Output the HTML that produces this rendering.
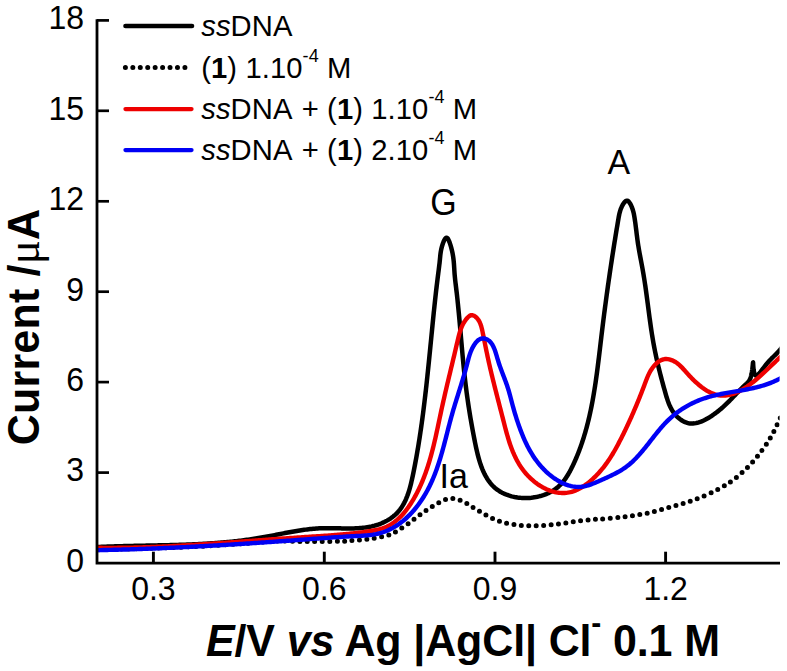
<!DOCTYPE html>
<html><head><meta charset="utf-8"><title>DPV ssDNA</title>
<style>
html,body{margin:0;padding:0;background:#fff;}
body{width:787px;height:671px;overflow:hidden;font-family:"Liberation Sans", sans-serif;}
svg{display:block;}
</style></head><body>
<svg width="787" height="671" viewBox="0 0 787 671">
<defs><clipPath id="pc"><rect x="0" y="0" width="779.6" height="671"/></clipPath></defs><g clip-path="url(#pc)">
<path d="M99.0,549.8 C107.5,549.5 133.2,548.8 150.0,548.2 C166.8,547.6 183.3,547.2 200.0,546.3 C216.7,545.4 237.5,543.9 250.0,543.0 C262.5,542.1 268.0,541.5 275.0,541.2 C282.0,540.9 286.2,541.1 292.0,541.2 C297.8,541.3 302.0,541.6 310.0,541.6 C318.0,541.6 332.6,541.5 340.1,541.3 C347.7,541.1 350.2,540.7 355.3,540.3 C360.4,539.9 365.5,539.5 370.6,538.8 C375.7,538.1 382.1,536.8 385.8,535.9 C389.5,535.0 390.5,534.3 392.9,533.2 C395.3,532.1 397.5,530.7 400.0,529.1 C402.5,527.5 405.5,525.7 408.0,523.9 C410.5,522.1 412.8,520.2 415.2,518.4 C417.6,516.6 420.1,514.8 422.5,513.0 C424.9,511.2 427.4,509.5 429.9,507.9 C432.4,506.3 435.0,504.8 437.5,503.4 C440.0,502.0 442.4,500.6 444.9,499.8 C447.4,499.0 449.8,498.5 452.3,498.5 C454.8,498.5 457.2,499.1 459.7,500.0 C462.2,500.9 464.7,502.2 467.2,503.6 C469.7,505.0 472.1,507.0 474.6,508.5 C477.1,510.0 479.5,511.3 482.0,512.7 C484.5,514.1 487.0,515.9 489.5,517.1 C492.0,518.4 494.3,519.2 496.8,520.2 C499.3,521.2 501.9,522.1 504.4,522.8 C506.9,523.5 509.5,523.9 512.0,524.3 C514.5,524.7 516.9,525.0 519.3,525.2 C521.7,525.5 524.0,525.7 526.5,525.8 C529.0,525.9 531.6,525.8 534.1,525.8 C536.6,525.8 539.2,525.6 541.8,525.5 C544.3,525.4 546.9,525.2 549.4,525.0 C551.9,524.8 554.1,524.6 556.5,524.3 C558.9,524.0 561.4,523.6 563.9,523.2 C566.4,522.8 569.0,522.5 571.5,522.1 C574.0,521.7 576.3,521.2 578.8,520.9 C581.3,520.6 583.8,520.5 586.4,520.2 C589.0,520.0 591.8,519.6 594.1,519.4 C596.4,519.2 595.0,519.5 600.0,519.1 C605.0,518.7 615.9,517.9 623.8,516.9 C631.7,515.9 639.6,514.8 647.5,513.1 C655.4,511.4 663.4,508.9 671.3,506.7 C679.2,504.4 687.1,502.6 695.0,499.6 C702.9,496.6 712.1,492.5 718.8,488.9 C725.5,485.3 730.2,482.2 735.4,478.2 C740.5,474.2 745.3,469.7 749.7,465.1 C754.1,460.6 758.0,455.6 761.6,450.9 C765.2,446.1 768.3,441.4 771.1,436.6 C773.9,431.9 776.6,425.8 778.2,422.4 C779.9,419.0 780.5,417.1 781.0,416.0" fill="none" stroke="#000" stroke-width="5" stroke-linecap="round" stroke-dasharray="0 7.45"/>
<path d="M97.02,547.05 L98.51,546.98 L100.00,546.91 L101.49,546.84 L102.98,546.78 L104.47,546.72 L105.96,546.66 L107.45,546.60 L108.94,546.55 L110.44,546.49 L111.93,546.44 L113.42,546.39 L114.92,546.35 L116.41,546.30 L117.91,546.26 L119.40,546.21 L120.90,546.17 L122.40,546.13 L123.89,546.09 L125.39,546.06 L126.89,546.02 L128.39,545.98 L129.88,545.95 L131.38,545.92 L132.88,545.88 L134.38,545.85 L135.88,545.82 L137.38,545.79 L138.88,545.76 L140.38,545.73 L141.88,545.70 L143.38,545.67 L144.88,545.64 L146.39,545.61 L147.89,545.58 L149.39,545.55 L150.89,545.52 L152.39,545.49 L153.90,545.46 L155.40,545.43 L156.90,545.40 L158.40,545.37 L159.90,545.34 L161.41,545.31 L162.91,545.28 L164.41,545.24 L165.91,545.21 L167.42,545.17 L168.92,545.14 L170.42,545.10 L171.92,545.06 L173.43,545.02 L174.93,544.98 L176.43,544.93 L177.93,544.89 L179.44,544.84 L180.94,544.79 L182.44,544.74 L183.94,544.69 L185.44,544.64 L186.94,544.58 L188.44,544.53 L189.94,544.47 L191.45,544.40 L192.95,544.34 L194.45,544.27 L195.95,544.21 L197.45,544.13 L198.94,544.06 L200.44,543.98 L201.94,543.90 L203.44,543.82 L204.94,543.74 L206.44,543.65 L207.93,543.56 L209.43,543.46 L210.93,543.36 L212.42,543.26 L213.92,543.16 L215.41,543.05 L216.91,542.94 L218.40,542.82 L219.90,542.71 L221.39,542.58 L222.88,542.46 L224.37,542.33 L225.87,542.19 L227.36,542.06 L228.85,541.91 L230.34,541.77 L231.83,541.62 L233.32,541.46 L234.80,541.30 L236.29,541.14 L237.78,540.97 L239.26,540.79 L240.75,540.62 L242.24,540.43 L243.72,540.24 L245.20,540.05 L246.69,539.85 L248.17,539.65 L249.65,539.44 L251.13,539.23 L252.61,539.01 L254.09,538.78 L255.57,538.55 L257.04,538.32 L258.52,538.08 L259.99,537.83 L261.47,537.58 L262.94,537.32 L264.42,537.05 L265.89,536.78 L267.36,536.51 L268.83,536.23 L270.30,535.95 L271.77,535.67 L273.24,535.38 L274.71,535.09 L276.18,534.80 L277.65,534.51 L279.12,534.22 L280.59,533.93 L282.06,533.64 L283.53,533.35 L285.00,533.07 L286.47,532.79 L287.94,532.51 L289.41,532.23 L290.88,531.96 L292.36,531.70 L293.83,531.43 L295.31,531.18 L296.78,530.93 L298.26,530.69 L299.74,530.46 L301.22,530.23 L302.70,530.02 L304.18,529.81 L305.67,529.61 L307.16,529.42 L308.64,529.25 L310.13,529.08 L311.63,528.93 L313.12,528.79 L314.62,528.66 L316.11,528.55 L317.62,528.45 L319.12,528.37 L320.62,528.30 L322.13,528.25 L323.64,528.21 L325.15,528.19 L326.67,528.17 L328.18,528.17 L329.70,528.18 L331.22,528.19 L332.74,528.22 L334.26,528.24 L335.78,528.27 L337.30,528.30 L338.82,528.34 L340.34,528.37 L341.86,528.40 L343.37,528.43 L344.89,528.45 L346.40,528.46 L347.92,528.47 L349.43,528.47 L350.93,528.45 L352.44,528.43 L353.94,528.39 L355.44,528.34 L356.94,528.27 L358.43,528.18 L359.92,528.08 L361.40,527.95 L362.88,527.80 L364.36,527.63 L365.83,527.43 L367.29,527.21 L368.75,526.96 L370.21,526.68 L371.66,526.37 L373.10,526.02 L374.53,525.65 L375.96,525.24 L377.38,524.79 L378.80,524.31 L380.20,523.79 L381.59,523.23 L382.96,522.63 L384.32,522.00 L385.66,521.33 L386.97,520.63 L388.26,519.88 L389.53,519.10 L390.76,518.29 L391.96,517.43 L393.13,516.54 L394.27,515.61 L395.36,514.65 L396.41,513.65 L397.42,512.61 L398.39,511.53 L399.32,510.42 L400.20,509.28 L401.05,508.10 L401.86,506.90 L402.63,505.66 L403.37,504.40 L404.07,503.11 L404.74,501.80 L405.38,500.46 L405.99,499.10 L406.57,497.72 L407.13,496.33 L407.66,494.91 L408.16,493.48 L408.65,492.03 L409.11,490.57 L409.55,489.09 L409.97,487.61 L410.37,486.12 L410.76,484.62 L411.13,483.11 L411.49,481.59 L411.84,480.08 L412.18,478.56 L412.51,477.04 L412.83,475.52 L413.14,474.00 L413.45,472.49 L413.75,470.98 L414.05,469.47 L414.34,467.97 L414.63,466.48 L414.92,464.98 L415.20,463.49 L415.48,462.01 L415.76,460.52 L416.03,459.04 L416.30,457.57 L416.56,456.09 L416.82,454.62 L417.08,453.15 L417.33,451.68 L417.58,450.22 L417.83,448.75 L418.08,447.29 L418.32,445.83 L418.56,444.37 L418.79,442.91 L419.03,441.46 L419.26,440.00 L419.48,438.54 L419.71,437.09 L419.93,435.63 L420.15,434.18 L420.37,432.72 L420.58,431.26 L420.80,429.81 L421.01,428.35 L421.22,426.89 L421.42,425.43 L421.63,423.97 L421.83,422.51 L422.03,421.04 L422.23,419.58 L422.43,418.11 L422.62,416.64 L422.81,415.17 L423.01,413.69 L423.20,412.22 L423.39,410.74 L423.57,409.26 L423.76,407.78 L423.94,406.29 L424.13,404.81 L424.31,403.32 L424.49,401.83 L424.67,400.34 L424.85,398.85 L425.02,397.36 L425.20,395.87 L425.37,394.37 L425.54,392.88 L425.72,391.38 L425.89,389.88 L426.05,388.38 L426.22,386.88 L426.39,385.38 L426.55,383.88 L426.72,382.38 L426.88,380.88 L427.05,379.37 L427.21,377.87 L427.37,376.37 L427.53,374.86 L427.69,373.36 L427.84,371.86 L428.00,370.35 L428.16,368.85 L428.31,367.34 L428.47,365.84 L428.62,364.34 L428.78,362.83 L428.93,361.33 L429.08,359.83 L429.23,358.33 L429.38,356.82 L429.53,355.32 L429.68,353.82 L429.83,352.32 L429.98,350.82 L430.13,349.33 L430.28,347.83 L430.42,346.33 L430.57,344.84 L430.72,343.34 L430.86,341.85 L431.01,340.36 L431.16,338.86 L431.30,337.37 L431.45,335.88 L431.59,334.39 L431.74,332.90 L431.89,331.41 L432.03,329.93 L432.18,328.44 L432.33,326.95 L432.47,325.46 L432.62,323.98 L432.77,322.49 L432.92,321.01 L433.07,319.52 L433.22,318.04 L433.37,316.55 L433.52,315.07 L433.67,313.58 L433.82,312.10 L433.98,310.62 L434.13,309.13 L434.29,307.65 L434.44,306.16 L434.60,304.68 L434.76,303.20 L434.92,301.71 L435.08,300.23 L435.24,298.75 L435.41,297.26 L435.57,295.78 L435.74,294.29 L435.90,292.81 L436.07,291.33 L436.24,289.84 L436.42,288.36 L436.59,286.87 L436.77,285.38 L436.94,283.90 L437.12,282.41 L437.30,280.92 L437.49,279.44 L437.67,277.95 L437.86,276.46 L438.05,274.97 L438.24,273.48 L438.43,271.99 L438.63,270.50 L438.82,269.02 L439.00,267.54 L439.18,266.07 L439.36,264.60 L439.53,263.15 L439.68,261.71 L439.83,260.27 L439.97,258.86 L440.10,257.44 L440.24,256.03 L440.39,254.60 L440.58,253.15 L440.80,251.67 L441.08,250.15 L441.41,248.59 L441.82,246.96 L442.31,245.26 L442.89,243.49 L443.55,241.72 L444.28,240.09 L445.06,238.78 L445.86,237.92 L446.65,237.69 L447.43,238.15 L448.18,239.17 L448.89,240.62 L449.56,242.32 L450.18,244.13 L450.73,245.92 L451.23,247.66 L451.67,249.34 L452.07,250.99 L452.41,252.59 L452.72,254.15 L452.98,255.67 L453.21,257.17 L453.41,258.64 L453.58,260.08 L453.73,261.50 L453.85,262.91 L453.96,264.30 L454.06,265.68 L454.15,267.06 L454.24,268.43 L454.32,269.81 L454.41,271.19 L454.50,272.57 L454.60,273.97 L454.72,275.38 L454.85,276.81 L455.00,278.26 L455.15,279.71 L455.32,281.18 L455.49,282.65 L455.67,284.13 L455.85,285.62 L456.03,287.12 L456.21,288.61 L456.39,290.11 L456.57,291.61 L456.74,293.11 L456.91,294.61 L457.08,296.12 L457.24,297.62 L457.41,299.12 L457.57,300.63 L457.73,302.14 L457.88,303.64 L458.04,305.15 L458.19,306.66 L458.34,308.16 L458.49,309.67 L458.63,311.18 L458.78,312.69 L458.92,314.20 L459.06,315.71 L459.20,317.22 L459.34,318.72 L459.48,320.23 L459.61,321.74 L459.75,323.25 L459.88,324.76 L460.02,326.27 L460.15,327.78 L460.28,329.29 L460.42,330.80 L460.55,332.30 L460.68,333.81 L460.81,335.32 L460.94,336.83 L461.07,338.33 L461.20,339.84 L461.33,341.34 L461.46,342.84 L461.60,344.35 L461.73,345.85 L461.86,347.35 L461.99,348.85 L462.13,350.35 L462.26,351.85 L462.40,353.35 L462.53,354.84 L462.67,356.34 L462.81,357.83 L462.95,359.32 L463.09,360.81 L463.24,362.30 L463.38,363.79 L463.53,365.28 L463.67,366.76 L463.82,368.24 L463.98,369.73 L464.13,371.21 L464.29,372.68 L464.44,374.16 L464.60,375.63 L464.77,377.11 L464.93,378.58 L465.10,380.04 L465.27,381.51 L465.45,382.97 L465.62,384.44 L465.80,385.90 L465.98,387.36 L466.17,388.82 L466.35,390.27 L466.54,391.73 L466.74,393.19 L466.93,394.64 L467.13,396.10 L467.33,397.56 L467.54,399.01 L467.75,400.47 L467.96,401.92 L468.17,403.38 L468.39,404.84 L468.61,406.30 L468.84,407.76 L469.06,409.22 L469.29,410.68 L469.53,412.15 L469.77,413.61 L470.01,415.08 L470.25,416.55 L470.50,418.02 L470.75,419.50 L471.00,420.98 L471.26,422.46 L471.52,423.94 L471.79,425.43 L472.06,426.92 L472.33,428.42 L472.60,429.92 L472.88,431.42 L473.17,432.93 L473.45,434.44 L473.74,435.95 L474.04,437.47 L474.34,439.00 L474.64,440.53 L474.94,442.06 L475.26,443.60 L475.57,445.14 L475.90,446.68 L476.23,448.23 L476.58,449.76 L476.93,451.30 L477.29,452.83 L477.67,454.36 L478.06,455.88 L478.46,457.39 L478.88,458.89 L479.32,460.38 L479.77,461.86 L480.24,463.33 L480.73,464.78 L481.24,466.21 L481.77,467.63 L482.32,469.03 L482.90,470.41 L483.50,471.77 L484.13,473.11 L484.78,474.42 L485.46,475.71 L486.16,476.97 L486.90,478.21 L487.66,479.42 L488.46,480.60 L489.29,481.74 L490.15,482.86 L491.04,483.94 L491.97,484.98 L492.94,485.99 L493.94,486.97 L494.98,487.90 L496.06,488.79 L497.18,489.65 L498.34,490.46 L499.53,491.23 L500.76,491.96 L502.01,492.65 L503.30,493.29 L504.62,493.90 L505.97,494.46 L507.34,494.99 L508.73,495.47 L510.15,495.91 L511.58,496.31 L513.04,496.67 L514.51,496.99 L515.99,497.26 L517.49,497.50 L519.00,497.69 L520.52,497.84 L522.05,497.95 L523.59,498.02 L525.13,498.05 L526.67,498.04 L528.21,497.98 L529.75,497.89 L531.29,497.75 L532.82,497.57 L534.35,497.34 L535.87,497.08 L537.38,496.78 L538.88,496.43 L540.37,496.04 L541.84,495.61 L543.30,495.14 L544.73,494.63 L546.15,494.07 L547.55,493.47 L548.92,492.84 L550.27,492.15 L551.58,491.43 L552.88,490.67 L554.14,489.86 L555.36,489.01 L556.56,488.12 L557.72,487.19 L558.84,486.22 L559.92,485.20 L560.96,484.14 L561.97,483.05 L562.94,481.92 L563.87,480.75 L564.77,479.56 L565.64,478.33 L566.49,477.09 L567.30,475.81 L568.09,474.52 L568.85,473.21 L569.60,471.89 L570.32,470.55 L571.02,469.20 L571.70,467.84 L572.37,466.47 L573.03,465.11 L573.67,463.74 L574.30,462.37 L574.91,461.00 L575.52,459.63 L576.11,458.25 L576.69,456.88 L577.26,455.50 L577.82,454.12 L578.37,452.73 L578.90,451.35 L579.43,449.96 L579.95,448.56 L580.46,447.17 L580.96,445.77 L581.45,444.37 L581.93,442.96 L582.40,441.55 L582.86,440.14 L583.32,438.73 L583.76,437.31 L584.20,435.89 L584.63,434.47 L585.05,433.04 L585.46,431.61 L585.87,430.18 L586.26,428.75 L586.65,427.31 L587.03,425.87 L587.41,424.43 L587.78,422.99 L588.14,421.54 L588.49,420.10 L588.84,418.65 L589.18,417.19 L589.51,415.74 L589.84,414.28 L590.16,412.82 L590.47,411.36 L590.78,409.90 L591.08,408.44 L591.38,406.97 L591.67,405.50 L591.96,404.03 L592.24,402.56 L592.51,401.09 L592.78,399.61 L593.05,398.14 L593.31,396.66 L593.56,395.18 L593.81,393.70 L594.06,392.22 L594.30,390.74 L594.54,389.25 L594.77,387.77 L595.01,386.28 L595.23,384.79 L595.46,383.31 L595.68,381.82 L595.89,380.33 L596.10,378.84 L596.31,377.34 L596.52,375.85 L596.73,374.36 L596.93,372.86 L597.13,371.37 L597.32,369.87 L597.52,368.38 L597.71,366.88 L597.90,365.38 L598.09,363.89 L598.28,362.39 L598.46,360.89 L598.65,359.39 L598.83,357.90 L599.01,356.40 L599.19,354.90 L599.37,353.40 L599.55,351.90 L599.73,350.40 L599.91,348.91 L600.08,347.41 L600.26,345.91 L600.44,344.41 L600.61,342.92 L600.79,341.42 L600.97,339.92 L601.15,338.43 L601.32,336.93 L601.50,335.44 L601.68,333.94 L601.86,332.45 L602.05,330.96 L602.23,329.47 L602.41,327.97 L602.60,326.48 L602.78,324.99 L602.97,323.50 L603.15,322.01 L603.34,320.52 L603.53,319.04 L603.72,317.55 L603.91,316.06 L604.10,314.58 L604.29,313.09 L604.48,311.60 L604.68,310.12 L604.87,308.63 L605.07,307.15 L605.26,305.67 L605.46,304.18 L605.66,302.70 L605.86,301.22 L606.06,299.74 L606.26,298.26 L606.46,296.77 L606.66,295.29 L606.86,293.81 L607.07,292.33 L607.27,290.86 L607.48,289.38 L607.69,287.90 L607.89,286.42 L608.10,284.94 L608.31,283.47 L608.52,281.99 L608.73,280.51 L608.94,279.04 L609.16,277.56 L609.37,276.08 L609.59,274.61 L609.80,273.13 L610.02,271.66 L610.24,270.18 L610.46,268.71 L610.67,267.24 L610.90,265.76 L611.12,264.29 L611.34,262.82 L611.56,261.34 L611.79,259.87 L612.01,258.40 L612.24,256.93 L612.47,255.45 L612.69,253.98 L612.92,252.51 L613.15,251.04 L613.38,249.57 L613.61,248.10 L613.85,246.63 L614.08,245.15 L614.32,243.68 L614.55,242.21 L614.79,240.74 L615.03,239.27 L615.26,237.80 L615.50,236.33 L615.74,234.86 L615.99,233.39 L616.23,231.92 L616.47,230.45 L616.72,228.98 L616.96,227.51 L617.21,226.04 L617.46,224.57 L617.70,223.10 L617.95,221.64 L618.20,220.17 L618.46,218.70 L618.71,217.23 L618.98,215.76 L619.28,214.28 L619.63,212.80 L620.03,211.31 L620.50,209.81 L621.06,208.30 L621.72,206.78 L622.49,205.24 L623.39,203.71 L624.37,202.33 L625.41,201.27 L626.48,200.68 L627.53,200.73 L628.55,201.41 L629.50,202.56 L630.39,204.01 L631.17,205.57 L631.85,207.14 L632.43,208.70 L632.93,210.25 L633.35,211.78 L633.71,213.31 L634.03,214.83 L634.30,216.34 L634.55,217.84 L634.78,219.34 L635.00,220.82 L635.21,222.30 L635.42,223.77 L635.61,225.24 L635.80,226.70 L635.98,228.16 L636.16,229.61 L636.34,231.06 L636.51,232.51 L636.69,233.95 L636.87,235.39 L637.05,236.84 L637.23,238.28 L637.42,239.73 L637.62,241.17 L637.83,242.62 L638.04,244.07 L638.27,245.52 L638.51,246.98 L638.75,248.44 L639.00,249.90 L639.26,251.37 L639.53,252.83 L639.80,254.30 L640.07,255.77 L640.35,257.25 L640.63,258.72 L640.91,260.20 L641.19,261.68 L641.47,263.16 L641.75,264.64 L642.03,266.12 L642.31,267.60 L642.58,269.09 L642.84,270.57 L643.10,272.06 L643.36,273.54 L643.61,275.03 L643.85,276.52 L644.09,278.00 L644.33,279.49 L644.56,280.98 L644.79,282.47 L645.01,283.96 L645.23,285.45 L645.45,286.93 L645.66,288.42 L645.87,289.91 L646.08,291.40 L646.28,292.89 L646.49,294.38 L646.69,295.87 L646.89,297.36 L647.09,298.85 L647.28,300.34 L647.48,301.83 L647.68,303.32 L647.87,304.81 L648.06,306.30 L648.26,307.78 L648.45,309.27 L648.65,310.76 L648.84,312.25 L649.04,313.73 L649.24,315.22 L649.43,316.70 L649.63,318.19 L649.84,319.67 L650.04,321.16 L650.25,322.64 L650.46,324.12 L650.67,325.61 L650.88,327.09 L651.10,328.57 L651.32,330.05 L651.54,331.52 L651.77,333.00 L652.00,334.48 L652.24,335.95 L652.48,337.43 L652.73,338.90 L652.98,340.37 L653.24,341.84 L653.50,343.31 L653.77,344.78 L654.04,346.25 L654.32,347.72 L654.60,349.18 L654.89,350.65 L655.19,352.11 L655.49,353.57 L655.80,355.03 L656.11,356.49 L656.43,357.95 L656.75,359.41 L657.08,360.87 L657.42,362.32 L657.75,363.78 L658.10,365.24 L658.44,366.69 L658.80,368.15 L659.15,369.60 L659.51,371.05 L659.88,372.51 L660.25,373.96 L660.62,375.42 L661.00,376.87 L661.38,378.32 L661.76,379.78 L662.15,381.23 L662.54,382.68 L662.93,384.14 L663.33,385.59 L663.73,387.05 L664.14,388.50 L664.55,389.96 L664.96,391.41 L665.37,392.87 L665.79,394.32 L666.21,395.78 L666.65,397.23 L667.10,398.67 L667.58,400.10 L668.07,401.52 L668.60,402.93 L669.15,404.32 L669.74,405.69 L670.38,407.05 L671.05,408.38 L671.77,409.68 L672.55,410.96 L673.38,412.20 L674.27,413.41 L675.22,414.59 L676.23,415.72 L677.29,416.81 L678.39,417.83 L679.55,418.79 L680.74,419.68 L681.98,420.50 L683.26,421.23 L684.56,421.87 L685.90,422.41 L687.26,422.86 L688.65,423.19 L690.06,423.40 L691.49,423.50 L692.93,423.48 L694.38,423.36 L695.84,423.13 L697.30,422.81 L698.76,422.40 L700.22,421.92 L701.68,421.36 L703.13,420.74 L704.56,420.06 L705.98,419.32 L707.38,418.55 L708.76,417.74 L710.12,416.90 L711.45,416.03 L712.74,415.16 L714.00,414.27 L715.22,413.38 L716.41,412.50 L717.56,411.61 L718.68,410.72 L719.78,409.82 L720.85,408.92 L721.91,408.00 L722.96,407.07 L724.00,406.12 L725.04,405.16 L726.08,404.17 L727.12,403.16 L728.17,402.13 L729.23,401.06 L730.32,399.97 L731.41,398.85 L732.52,397.70 L733.64,396.55 L734.77,395.38 L735.90,394.21 L737.03,393.04 L738.15,391.88 L739.27,390.74 L740.38,389.62 L741.48,388.52 L742.57,387.46 L743.63,386.43 L744.67,385.45 L745.69,384.52 L746.68,383.62 L747.62,382.69 L748.50,381.67 L749.31,380.50 L750.04,379.12 L750.67,377.47 L751.20,375.57 L751.65,373.52 L752.01,371.41 L752.31,369.32 L752.54,367.35 L752.72,365.59 L752.85,364.13 L752.95,363.05 L753.03,362.46 L753.08,362.43 L753.13,363.05 L753.19,364.24 L753.27,365.84 L753.41,367.70 L753.60,369.66 L753.89,371.57 L754.28,373.28 L754.79,374.62 L755.45,375.44 L756.26,375.63 L757.21,375.24 L758.25,374.41 L759.36,373.25 L760.50,371.89 L761.63,370.45 L762.75,368.98 L763.85,367.53 L764.93,366.11 L766.00,364.74 L767.06,363.44 L768.09,362.23 L769.12,361.09 L770.13,360.00 L771.13,358.96 L772.13,357.96 L773.12,356.98 L774.10,356.01 L775.08,355.04 L776.06,354.06 L777.04,353.06 L778.02,352.02 L779.00,350.94 L779.99,349.80 L780.99,348.59 L782.00,347.30 L783.01,345.93" fill="none" stroke="#000" stroke-width="4.5" stroke-linejoin="round"/>
<path d="M97.01,547.78 L98.51,547.80 L100.00,547.81 L101.50,547.82 L103.00,547.84 L104.50,547.84 L105.99,547.85 L107.49,547.85 L108.99,547.86 L110.48,547.86 L111.98,547.85 L113.48,547.85 L114.98,547.84 L116.47,547.83 L117.97,547.82 L119.47,547.80 L120.97,547.79 L122.47,547.77 L123.96,547.75 L125.46,547.72 L126.96,547.70 L128.46,547.67 L129.95,547.64 L131.45,547.61 L132.95,547.58 L134.45,547.55 L135.95,547.51 L137.45,547.47 L138.94,547.43 L140.44,547.39 L141.94,547.34 L143.44,547.30 L144.94,547.25 L146.44,547.20 L147.93,547.15 L149.43,547.10 L150.93,547.04 L152.43,546.99 L153.93,546.93 L155.43,546.87 L156.92,546.81 L158.42,546.75 L159.92,546.68 L161.42,546.62 L162.92,546.55 L164.42,546.48 L165.92,546.41 L167.41,546.34 L168.91,546.27 L170.41,546.19 L171.91,546.12 L173.41,546.04 L174.91,545.96 L176.41,545.88 L177.90,545.80 L179.40,545.72 L180.90,545.64 L182.40,545.56 L183.90,545.47 L185.40,545.38 L186.89,545.30 L188.39,545.21 L189.89,545.12 L191.39,545.03 L192.89,544.94 L194.39,544.84 L195.88,544.75 L197.38,544.66 L198.88,544.56 L200.38,544.47 L201.88,544.37 L203.37,544.27 L204.87,544.17 L206.37,544.07 L207.87,543.97 L209.36,543.87 L210.86,543.77 L212.36,543.67 L213.86,543.57 L215.35,543.46 L216.85,543.36 L218.35,543.25 L219.85,543.15 L221.34,543.04 L222.84,542.94 L224.34,542.83 L225.84,542.72 L227.33,542.62 L228.83,542.51 L230.33,542.40 L231.82,542.29 L233.32,542.18 L234.82,542.07 L236.31,541.96 L237.81,541.85 L239.30,541.74 L240.80,541.63 L242.30,541.52 L243.79,541.41 L245.29,541.30 L246.78,541.19 L248.28,541.08 L249.78,540.97 L251.27,540.86 L252.77,540.75 L254.26,540.64 L255.76,540.53 L257.25,540.41 L258.75,540.30 L260.24,540.19 L261.74,540.08 L263.23,539.97 L264.72,539.86 L266.22,539.75 L267.71,539.64 L269.21,539.53 L270.70,539.42 L272.19,539.31 L273.69,539.21 L275.18,539.10 L276.68,538.99 L278.17,538.88 L279.66,538.77 L281.15,538.67 L282.65,538.56 L284.14,538.46 L285.63,538.35 L287.12,538.25 L288.62,538.14 L290.11,538.04 L291.60,537.94 L293.09,537.83 L294.58,537.73 L296.08,537.63 L297.57,537.53 L299.06,537.43 L300.55,537.33 L302.04,537.24 L303.53,537.14 L305.02,537.04 L306.51,536.95 L308.00,536.85 L309.49,536.76 L310.98,536.66 L312.47,536.57 L313.96,536.48 L315.45,536.38 L316.94,536.29 L318.43,536.19 L319.92,536.10 L321.41,536.00 L322.90,535.90 L324.39,535.80 L325.88,535.70 L327.37,535.60 L328.86,535.49 L330.36,535.38 L331.85,535.28 L333.34,535.16 L334.83,535.05 L336.32,534.93 L337.82,534.81 L339.31,534.69 L340.81,534.56 L342.30,534.43 L343.80,534.29 L345.29,534.15 L346.79,534.01 L348.29,533.86 L349.79,533.71 L351.28,533.56 L352.78,533.39 L354.28,533.23 L355.78,533.05 L357.29,532.88 L358.79,532.69 L360.29,532.50 L361.80,532.31 L363.30,532.11 L364.81,531.90 L366.32,531.68 L367.83,531.46 L369.34,531.23 L370.84,531.00 L372.35,530.74 L373.85,530.47 L375.34,530.18 L376.82,529.87 L378.29,529.52 L379.74,529.15 L381.18,528.74 L382.59,528.29 L383.99,527.80 L385.35,527.26 L386.70,526.67 L388.01,526.04 L389.30,525.36 L390.56,524.63 L391.80,523.87 L393.01,523.06 L394.20,522.21 L395.37,521.32 L396.51,520.40 L397.63,519.44 L398.72,518.45 L399.79,517.42 L400.84,516.37 L401.87,515.29 L402.87,514.18 L403.86,513.04 L404.82,511.88 L405.77,510.70 L406.69,509.50 L407.59,508.28 L408.48,507.04 L409.34,505.78 L410.19,504.51 L411.02,503.23 L411.83,501.93 L412.63,500.63 L413.41,499.32 L414.17,498.00 L414.91,496.68 L415.64,495.35 L416.36,494.01 L417.06,492.67 L417.74,491.33 L418.41,489.98 L419.06,488.62 L419.70,487.26 L420.33,485.90 L420.94,484.53 L421.54,483.15 L422.13,481.77 L422.70,480.39 L423.27,479.00 L423.82,477.61 L424.35,476.22 L424.88,474.82 L425.40,473.42 L425.90,472.01 L426.40,470.60 L426.88,469.18 L427.36,467.77 L427.82,466.35 L428.27,464.92 L428.72,463.50 L429.16,462.07 L429.59,460.64 L430.01,459.20 L430.42,457.76 L430.82,456.32 L431.22,454.88 L431.61,453.44 L432.00,451.99 L432.37,450.54 L432.74,449.09 L433.11,447.64 L433.47,446.18 L433.82,444.73 L434.17,443.27 L434.52,441.81 L434.86,440.35 L435.19,438.89 L435.53,437.43 L435.86,435.96 L436.18,434.50 L436.50,433.03 L436.82,431.57 L437.14,430.10 L437.46,428.63 L437.77,427.17 L438.08,425.70 L438.39,424.23 L438.71,422.76 L439.02,421.30 L439.32,419.83 L439.63,418.36 L439.94,416.89 L440.25,415.43 L440.57,413.96 L440.88,412.50 L441.19,411.03 L441.51,409.57 L441.83,408.11 L442.15,406.65 L442.47,405.19 L442.79,403.73 L443.12,402.27 L443.45,400.82 L443.78,399.36 L444.11,397.90 L444.44,396.45 L444.77,394.99 L445.11,393.54 L445.45,392.09 L445.78,390.63 L446.12,389.18 L446.46,387.73 L446.81,386.27 L447.15,384.82 L447.49,383.37 L447.84,381.91 L448.18,380.46 L448.53,379.01 L448.88,377.55 L449.22,376.10 L449.57,374.64 L449.92,373.19 L450.27,371.73 L450.62,370.28 L450.97,368.82 L451.32,367.36 L451.67,365.90 L452.02,364.44 L452.37,362.98 L452.72,361.52 L453.07,360.06 L453.42,358.60 L453.77,357.13 L454.12,355.67 L454.46,354.20 L454.81,352.73 L455.16,351.26 L455.51,349.79 L455.85,348.31 L456.20,346.84 L456.54,345.36 L456.89,343.88 L457.23,342.40 L457.57,340.92 L457.92,339.43 L458.27,337.95 L458.63,336.48 L459.01,335.01 L459.41,333.54 L459.83,332.09 L460.29,330.65 L460.79,329.23 L461.32,327.83 L461.90,326.45 L462.53,325.09 L463.22,323.75 L463.97,322.45 L464.78,321.17 L465.66,319.93 L466.62,318.72 L467.66,317.54 L468.78,316.46 L469.98,315.61 L471.25,315.15 L472.57,315.20 L473.91,315.70 L475.19,316.50 L476.35,317.47 L477.37,318.55 L478.27,319.73 L479.06,321.00 L479.75,322.34 L480.35,323.75 L480.88,325.22 L481.34,326.73 L481.75,328.27 L482.12,329.83 L482.46,331.40 L482.78,332.97 L483.09,334.53 L483.41,336.07 L483.72,337.60 L484.02,339.12 L484.33,340.63 L484.63,342.13 L484.93,343.62 L485.23,345.10 L485.53,346.57 L485.83,348.03 L486.12,349.49 L486.42,350.94 L486.72,352.39 L487.03,353.83 L487.33,355.27 L487.63,356.71 L487.94,358.15 L488.25,359.58 L488.57,361.02 L488.89,362.45 L489.21,363.89 L489.53,365.32 L489.86,366.76 L490.19,368.19 L490.53,369.63 L490.87,371.06 L491.21,372.50 L491.55,373.94 L491.89,375.37 L492.24,376.81 L492.59,378.25 L492.95,379.69 L493.30,381.12 L493.66,382.56 L494.02,384.00 L494.38,385.45 L494.74,386.89 L495.11,388.33 L495.47,389.77 L495.84,391.22 L496.21,392.66 L496.58,394.11 L496.95,395.56 L497.32,397.00 L497.69,398.45 L498.07,399.90 L498.44,401.35 L498.82,402.81 L499.19,404.26 L499.57,405.72 L499.94,407.17 L500.32,408.63 L500.70,410.09 L501.07,411.55 L501.45,413.01 L501.83,414.47 L502.20,415.94 L502.58,417.41 L502.95,418.87 L503.33,420.34 L503.70,421.82 L504.08,423.29 L504.45,424.76 L504.83,426.23 L505.21,427.70 L505.60,429.17 L505.99,430.64 L506.39,432.11 L506.80,433.57 L507.21,435.03 L507.63,436.48 L508.06,437.94 L508.50,439.38 L508.95,440.83 L509.41,442.26 L509.88,443.69 L510.37,445.12 L510.87,446.53 L511.39,447.94 L511.92,449.34 L512.47,450.73 L513.03,452.12 L513.62,453.49 L514.22,454.85 L514.84,456.20 L515.49,457.54 L516.15,458.87 L516.84,460.19 L517.55,461.50 L518.28,462.79 L519.04,464.07 L519.83,465.33 L520.64,466.58 L521.47,467.81 L522.34,469.03 L523.24,470.24 L524.16,471.42 L525.12,472.59 L526.10,473.74 L527.12,474.87 L528.16,475.99 L529.23,477.07 L530.33,478.14 L531.45,479.18 L532.60,480.19 L533.77,481.18 L534.96,482.14 L536.17,483.06 L537.40,483.96 L538.66,484.82 L539.93,485.65 L541.21,486.44 L542.52,487.19 L543.84,487.90 L545.17,488.57 L546.51,489.20 L547.87,489.79 L549.24,490.33 L550.61,490.83 L552.00,491.28 L553.39,491.68 L554.79,492.03 L556.20,492.33 L557.61,492.57 L559.02,492.76 L560.44,492.90 L561.86,492.97 L563.28,492.99 L564.69,492.95 L566.11,492.85 L567.52,492.68 L568.93,492.45 L570.34,492.15 L571.73,491.79 L573.13,491.36 L574.51,490.87 L575.89,490.33 L577.25,489.72 L578.61,489.07 L579.96,488.36 L581.29,487.61 L582.62,486.81 L583.92,485.96 L585.22,485.08 L586.50,484.16 L587.76,483.20 L589.01,482.21 L590.24,481.19 L591.45,480.14 L592.64,479.07 L593.82,477.97 L594.97,476.85 L596.10,475.72 L597.21,474.57 L598.29,473.41 L599.35,472.24 L600.39,471.06 L601.40,469.88 L602.38,468.70 L603.34,467.51 L604.27,466.32 L605.18,465.13 L606.07,463.93 L606.94,462.73 L607.78,461.53 L608.61,460.32 L609.42,459.11 L610.21,457.90 L610.99,456.68 L611.75,455.46 L612.50,454.23 L613.24,452.99 L613.97,451.75 L614.68,450.51 L615.39,449.26 L616.09,448.00 L616.78,446.73 L617.47,445.46 L618.15,444.18 L618.83,442.89 L619.50,441.60 L620.18,440.29 L620.85,438.98 L621.52,437.67 L622.19,436.34 L622.85,435.01 L623.51,433.68 L624.17,432.33 L624.83,430.98 L625.48,429.63 L626.13,428.27 L626.78,426.91 L627.42,425.54 L628.06,424.16 L628.70,422.79 L629.33,421.41 L629.96,420.02 L630.59,418.63 L631.22,417.24 L631.84,415.85 L632.45,414.45 L633.07,413.05 L633.67,411.65 L634.28,410.24 L634.88,408.84 L635.48,407.43 L636.07,406.03 L636.66,404.62 L637.24,403.21 L637.82,401.80 L638.40,400.39 L638.97,398.98 L639.54,397.58 L640.10,396.17 L640.66,394.76 L641.21,393.36 L641.76,391.96 L642.30,390.56 L642.84,389.16 L643.37,387.76 L643.90,386.37 L644.42,384.98 L644.94,383.59 L645.45,382.21 L645.97,380.83 L646.50,379.46 L647.04,378.10 L647.60,376.75 L648.19,375.41 L648.82,374.09 L649.48,372.78 L650.18,371.48 L650.93,370.21 L651.74,368.95 L652.61,367.72 L653.55,366.50 L654.55,365.32 L655.63,364.18 L656.76,363.11 L657.96,362.11 L659.22,361.22 L660.53,360.46 L661.89,359.83 L663.29,359.36 L664.74,359.07 L666.22,358.99 L667.74,359.10 L669.25,359.39 L670.75,359.82 L672.20,360.37 L673.58,361.01 L674.89,361.71 L676.12,362.48 L677.30,363.30 L678.42,364.18 L679.49,365.11 L680.53,366.08 L681.54,367.08 L682.53,368.12 L683.51,369.19 L684.48,370.29 L685.46,371.40 L686.45,372.52 L687.46,373.66 L688.50,374.79 L689.55,375.93 L690.63,377.07 L691.73,378.21 L692.85,379.33 L693.99,380.45 L695.15,381.55 L696.33,382.63 L697.52,383.69 L698.73,384.73 L699.96,385.74 L701.20,386.72 L702.46,387.67 L703.73,388.58 L705.02,389.45 L706.31,390.28 L707.62,391.06 L708.94,391.78 L710.27,392.46 L711.61,393.08 L712.96,393.64 L714.32,394.14 L715.68,394.57 L717.05,394.94 L718.43,395.23 L719.81,395.44 L721.20,395.58 L722.59,395.64 L723.98,395.62 L725.37,395.53 L726.77,395.36 L728.16,395.13 L729.56,394.84 L730.95,394.48 L732.34,394.06 L733.72,393.59 L735.10,393.07 L736.47,392.49 L737.84,391.87 L739.19,391.21 L740.54,390.51 L741.88,389.77 L743.20,388.99 L744.52,388.18 L745.82,387.35 L747.11,386.49 L748.38,385.60 L749.63,384.70 L750.87,383.78 L752.09,382.85 L753.29,381.91 L754.47,380.96 L755.63,380.00 L756.77,379.05 L757.89,378.09 L759.00,377.12 L760.09,376.16 L761.16,375.19 L762.23,374.21 L763.29,373.23 L764.34,372.24 L765.39,371.25 L766.44,370.26 L767.49,369.25 L768.54,368.24 L769.59,367.23 L770.65,366.21 L771.72,365.18 L772.80,364.14 L773.90,363.09 L775.00,362.04 L776.13,360.98 L777.27,359.91 L778.43,358.83 L779.62,357.74 L780.83,356.64 L782.07,355.53 L783.34,354.41" fill="none" stroke="#ee0000" stroke-width="4.4" stroke-linejoin="round"/>
<path d="M97.04,550.16 L98.53,550.13 L100.02,550.11 L101.51,550.08 L103.00,550.05 L104.49,550.01 L105.98,549.98 L107.47,549.95 L108.96,549.91 L110.45,549.88 L111.95,549.84 L113.44,549.81 L114.93,549.77 L116.43,549.73 L117.92,549.69 L119.42,549.65 L120.91,549.61 L122.41,549.57 L123.90,549.52 L125.40,549.48 L126.89,549.44 L128.39,549.39 L129.88,549.34 L131.38,549.30 L132.88,549.25 L134.38,549.20 L135.87,549.15 L137.37,549.10 L138.87,549.05 L140.37,549.00 L141.87,548.94 L143.36,548.89 L144.86,548.83 L146.36,548.78 L147.86,548.72 L149.36,548.67 L150.86,548.61 L152.36,548.55 L153.86,548.49 L155.36,548.43 L156.86,548.37 L158.36,548.31 L159.86,548.25 L161.36,548.18 L162.86,548.12 L164.36,548.06 L165.86,547.99 L167.37,547.92 L168.87,547.86 L170.37,547.79 L171.87,547.72 L173.37,547.65 L174.87,547.59 L176.37,547.52 L177.88,547.44 L179.38,547.37 L180.88,547.30 L182.38,547.23 L183.88,547.15 L185.39,547.08 L186.89,547.01 L188.39,546.93 L189.89,546.85 L191.39,546.78 L192.89,546.70 L194.40,546.62 L195.90,546.54 L197.40,546.47 L198.90,546.39 L200.40,546.31 L201.90,546.22 L203.41,546.14 L204.91,546.06 L206.41,545.98 L207.91,545.89 L209.41,545.81 L210.91,545.73 L212.41,545.64 L213.91,545.56 L215.42,545.47 L216.92,545.38 L218.42,545.30 L219.92,545.21 L221.42,545.12 L222.92,545.03 L224.42,544.94 L225.92,544.85 L227.42,544.76 L228.92,544.67 L230.42,544.58 L231.91,544.49 L233.41,544.40 L234.91,544.30 L236.41,544.21 L237.91,544.12 L239.41,544.02 L240.90,543.93 L242.40,543.83 L243.90,543.74 L245.40,543.64 L246.89,543.54 L248.39,543.45 L249.89,543.35 L251.38,543.25 L252.88,543.15 L254.37,543.05 L255.87,542.95 L257.36,542.85 L258.86,542.75 L260.35,542.65 L261.84,542.55 L263.34,542.45 L264.83,542.35 L266.32,542.25 L267.82,542.15 L269.31,542.04 L270.80,541.94 L272.29,541.84 L273.78,541.73 L275.27,541.63 L276.76,541.52 L278.25,541.42 L279.74,541.31 L281.23,541.21 L282.72,541.10 L284.21,541.00 L285.69,540.89 L287.18,540.78 L288.67,540.68 L290.15,540.57 L291.64,540.46 L293.12,540.35 L294.61,540.24 L296.09,540.14 L297.58,540.03 L299.06,539.92 L300.54,539.81 L302.03,539.70 L303.51,539.59 L304.99,539.48 L306.47,539.37 L307.95,539.26 L309.43,539.15 L310.91,539.04 L312.39,538.92 L313.87,538.81 L315.35,538.70 L316.83,538.59 L318.31,538.48 L319.80,538.37 L321.28,538.27 L322.76,538.16 L324.25,538.05 L325.73,537.94 L327.22,537.84 L328.71,537.73 L330.20,537.63 L331.69,537.52 L333.19,537.42 L334.69,537.32 L336.19,537.22 L337.69,537.12 L339.19,537.02 L340.70,536.93 L342.21,536.83 L343.72,536.74 L345.24,536.65 L346.75,536.56 L348.28,536.47 L349.80,536.39 L351.33,536.30 L352.86,536.22 L354.40,536.14 L355.94,536.07 L357.49,535.99 L359.03,535.91 L360.58,535.83 L362.13,535.74 L363.67,535.64 L365.21,535.52 L366.75,535.40 L368.28,535.25 L369.80,535.08 L371.32,534.89 L372.82,534.68 L374.32,534.43 L375.80,534.15 L377.26,533.84 L378.72,533.50 L380.15,533.11 L381.57,532.69 L382.98,532.23 L384.37,531.74 L385.74,531.22 L387.10,530.66 L388.44,530.07 L389.77,529.44 L391.08,528.79 L392.38,528.11 L393.66,527.39 L394.92,526.65 L396.17,525.87 L397.40,525.07 L398.62,524.25 L399.81,523.39 L401.00,522.51 L402.17,521.61 L403.32,520.68 L404.45,519.72 L405.57,518.75 L406.67,517.75 L407.76,516.73 L408.83,515.69 L409.89,514.63 L410.92,513.54 L411.94,512.44 L412.95,511.33 L413.94,510.19 L414.91,509.04 L415.86,507.87 L416.80,506.68 L417.73,505.48 L418.63,504.27 L419.52,503.04 L420.39,501.80 L421.25,500.55 L422.09,499.29 L422.91,498.01 L423.71,496.73 L424.50,495.43 L425.27,494.13 L426.03,492.82 L426.76,491.50 L427.48,490.18 L428.19,488.85 L428.87,487.51 L429.54,486.17 L430.20,484.82 L430.84,483.47 L431.46,482.11 L432.08,480.74 L432.67,479.37 L433.26,478.00 L433.83,476.62 L434.39,475.23 L434.93,473.85 L435.46,472.45 L435.99,471.05 L436.50,469.65 L437.00,468.25 L437.49,466.84 L437.97,465.42 L438.44,464.01 L438.90,462.59 L439.36,461.16 L439.81,459.74 L440.24,458.31 L440.68,456.88 L441.10,455.44 L441.52,454.00 L441.93,452.56 L442.34,451.12 L442.74,449.68 L443.14,448.23 L443.53,446.78 L443.92,445.33 L444.30,443.88 L444.68,442.43 L445.06,440.98 L445.44,439.52 L445.82,438.07 L446.19,436.61 L446.56,435.15 L446.94,433.70 L447.31,432.24 L447.68,430.78 L448.06,429.32 L448.43,427.87 L448.81,426.41 L449.19,424.95 L449.57,423.50 L449.95,422.04 L450.34,420.59 L450.73,419.13 L451.13,417.68 L451.52,416.23 L451.93,414.78 L452.34,413.33 L452.75,411.88 L453.17,410.44 L453.60,408.99 L454.03,407.55 L454.46,406.11 L454.90,404.67 L455.34,403.23 L455.78,401.80 L456.22,400.36 L456.67,398.92 L457.12,397.49 L457.57,396.06 L458.02,394.63 L458.47,393.20 L458.92,391.76 L459.37,390.34 L459.82,388.91 L460.27,387.48 L460.71,386.05 L461.16,384.62 L461.60,383.19 L462.04,381.77 L462.47,380.34 L462.90,378.91 L463.33,377.49 L463.76,376.06 L464.17,374.64 L464.59,373.21 L465.00,371.78 L465.40,370.36 L465.79,368.93 L466.18,367.50 L466.56,366.07 L466.94,364.64 L467.30,363.22 L467.67,361.79 L468.03,360.35 L468.41,358.92 L468.81,357.49 L469.23,356.06 L469.69,354.62 L470.18,353.18 L470.73,351.75 L471.33,350.31 L471.99,348.86 L472.72,347.42 L473.52,345.97 L474.41,344.55 L475.37,343.18 L476.41,341.91 L477.51,340.78 L478.69,339.82 L479.93,339.09 L481.24,338.61 L482.60,338.41 L483.98,338.47 L485.35,338.76 L486.66,339.25 L487.89,339.92 L489.02,340.73 L490.04,341.68 L490.98,342.75 L491.84,343.94 L492.62,345.23 L493.33,346.60 L493.99,348.04 L494.60,349.54 L495.16,351.10 L495.69,352.68 L496.19,354.29 L496.68,355.91 L497.15,357.53 L497.62,359.12 L498.09,360.69 L498.57,362.23 L499.06,363.73 L499.55,365.21 L500.05,366.65 L500.56,368.07 L501.07,369.47 L501.58,370.85 L502.09,372.21 L502.60,373.56 L503.12,374.90 L503.63,376.24 L504.13,377.56 L504.64,378.89 L505.14,380.21 L505.63,381.54 L506.12,382.88 L506.60,384.22 L507.07,385.57 L507.53,386.94 L507.97,388.33 L508.41,389.73 L508.84,391.16 L509.25,392.60 L509.66,394.06 L510.06,395.53 L510.45,397.02 L510.84,398.50 L511.23,400.00 L511.62,401.49 L512.01,402.99 L512.41,404.48 L512.81,405.96 L513.21,407.44 L513.62,408.92 L514.04,410.38 L514.46,411.84 L514.89,413.30 L515.33,414.75 L515.78,416.19 L516.23,417.63 L516.68,419.06 L517.15,420.49 L517.62,421.92 L518.10,423.34 L518.59,424.75 L519.09,426.16 L519.59,427.57 L520.11,428.98 L520.63,430.38 L521.16,431.77 L521.70,433.16 L522.26,434.55 L522.82,435.93 L523.40,437.30 L523.99,438.67 L524.59,440.03 L525.20,441.38 L525.83,442.73 L526.47,444.07 L527.13,445.40 L527.80,446.72 L528.49,448.04 L529.19,449.34 L529.91,450.63 L530.65,451.92 L531.40,453.19 L532.18,454.45 L532.97,455.70 L533.78,456.94 L534.61,458.17 L535.46,459.38 L536.33,460.58 L537.23,461.77 L538.14,462.95 L539.08,464.11 L540.04,465.25 L541.02,466.38 L542.03,467.50 L543.06,468.60 L544.12,469.69 L545.20,470.75 L546.31,471.81 L547.44,472.84 L548.60,473.86 L549.79,474.85 L550.99,475.82 L552.22,476.77 L553.47,477.69 L554.75,478.58 L556.03,479.43 L557.34,480.25 L558.67,481.04 L560.00,481.78 L561.36,482.49 L562.72,483.15 L564.10,483.77 L565.49,484.34 L566.89,484.85 L568.30,485.32 L569.71,485.73 L571.13,486.09 L572.56,486.38 L573.99,486.61 L575.42,486.79 L576.85,486.89 L578.29,486.93 L579.72,486.89 L581.15,486.79 L582.58,486.61 L584.01,486.37 L585.43,486.06 L586.85,485.70 L588.28,485.29 L589.69,484.83 L591.11,484.34 L592.53,483.81 L593.94,483.25 L595.36,482.66 L596.77,482.06 L598.18,481.44 L599.59,480.81 L601.01,480.18 L602.42,479.56 L603.83,478.93 L605.23,478.30 L606.63,477.66 L608.03,477.03 L609.42,476.38 L610.81,475.73 L612.18,475.07 L613.54,474.40 L614.90,473.71 L616.24,473.01 L617.56,472.30 L618.87,471.57 L620.17,470.81 L621.44,470.04 L622.70,469.25 L623.94,468.44 L625.15,467.59 L626.35,466.73 L627.52,465.84 L628.67,464.92 L629.81,463.98 L630.92,463.02 L632.02,462.04 L633.10,461.03 L634.16,460.01 L635.21,458.97 L636.24,457.92 L637.26,456.84 L638.27,455.76 L639.27,454.65 L640.25,453.54 L641.23,452.41 L642.20,451.27 L643.16,450.13 L644.11,448.97 L645.05,447.81 L646.00,446.63 L646.93,445.46 L647.87,444.27 L648.80,443.09 L649.72,441.90 L650.65,440.71 L651.58,439.51 L652.51,438.32 L653.44,437.13 L654.38,435.94 L655.31,434.76 L656.26,433.57 L657.20,432.40 L658.16,431.23 L659.12,430.06 L660.09,428.91 L661.07,427.76 L662.06,426.63 L663.06,425.50 L664.07,424.39 L665.09,423.29 L666.13,422.21 L667.18,421.14 L668.25,420.09 L669.33,419.05 L670.43,418.03 L671.55,417.03 L672.68,416.05 L673.83,415.09 L675.00,414.15 L676.18,413.23 L677.38,412.32 L678.59,411.44 L679.81,410.57 L681.05,409.73 L682.30,408.90 L683.57,408.10 L684.85,407.31 L686.13,406.55 L687.44,405.80 L688.75,405.08 L690.07,404.38 L691.40,403.70 L692.75,403.03 L694.10,402.39 L695.46,401.77 L696.83,401.18 L698.21,400.60 L699.60,400.05 L700.99,399.51 L702.40,399.00 L703.80,398.51 L705.22,398.05 L706.64,397.60 L708.07,397.17 L709.50,396.76 L710.94,396.37 L712.38,395.99 L713.83,395.63 L715.28,395.28 L716.73,394.95 L718.19,394.63 L719.66,394.32 L721.12,394.02 L722.59,393.73 L724.06,393.44 L725.54,393.17 L727.01,392.90 L728.49,392.63 L729.97,392.37 L731.45,392.12 L732.93,391.86 L734.41,391.61 L735.89,391.36 L737.37,391.11 L738.85,390.85 L740.33,390.60 L741.81,390.34 L743.29,390.07 L744.77,389.80 L746.24,389.52 L747.71,389.24 L749.18,388.95 L750.65,388.64 L752.12,388.33 L753.58,388.01 L755.03,387.67 L756.49,387.32 L757.94,386.95 L759.38,386.57 L760.82,386.18 L762.26,385.76 L763.69,385.33 L765.11,384.88 L766.53,384.41 L767.94,383.91 L769.34,383.40 L770.74,382.86 L772.13,382.29 L773.52,381.70 L774.89,381.09 L776.26,380.45 L777.62,379.78 L778.97,379.08 L780.31,378.35 L781.64,377.58 L782.97,376.79" fill="none" stroke="#0000f5" stroke-width="4.4" stroke-linejoin="round"/>
</g>
<path d="M97.0,19.2 V564.6 M95.6,563.2 H780" fill="none" stroke="#000" stroke-width="2.8"/>
<line x1="97.0" y1="472.6" x2="109" y2="472.6" stroke="#000" stroke-width="2.7"/>
<line x1="97.0" y1="382.1" x2="109" y2="382.1" stroke="#000" stroke-width="2.7"/>
<line x1="97.0" y1="291.7" x2="109" y2="291.7" stroke="#000" stroke-width="2.7"/>
<line x1="97.0" y1="201.3" x2="109" y2="201.3" stroke="#000" stroke-width="2.7"/>
<line x1="97.0" y1="110.8" x2="109" y2="110.8" stroke="#000" stroke-width="2.7"/>
<line x1="97.0" y1="20.4" x2="109" y2="20.4" stroke="#000" stroke-width="2.7"/>
<line x1="153.4" y1="551.7" x2="153.4" y2="563.2" stroke="#000" stroke-width="2.9"/>
<line x1="324.3" y1="551.7" x2="324.3" y2="563.2" stroke="#000" stroke-width="2.9"/>
<line x1="495.0" y1="551.7" x2="495.0" y2="563.2" stroke="#000" stroke-width="2.9"/>
<line x1="665.6" y1="551.7" x2="665.6" y2="563.2" stroke="#000" stroke-width="2.9"/>
<g transform="translate(84.00,571.90) scale(1,1.040)"><text x="0" y="0" text-anchor="end" font-size="32" font-family='"Liberation Sans", sans-serif'>0</text></g>
<g transform="translate(84.00,481.47) scale(1,1.040)"><text x="0" y="0" text-anchor="end" font-size="32" font-family='"Liberation Sans", sans-serif'>3</text></g>
<g transform="translate(84.00,391.04) scale(1,1.040)"><text x="0" y="0" text-anchor="end" font-size="32" font-family='"Liberation Sans", sans-serif'>6</text></g>
<g transform="translate(84.00,300.61) scale(1,1.040)"><text x="0" y="0" text-anchor="end" font-size="32" font-family='"Liberation Sans", sans-serif'>9</text></g>
<g transform="translate(84.00,210.18) scale(1,1.040)"><text x="0" y="0" text-anchor="end" font-size="32" font-family='"Liberation Sans", sans-serif'>12</text></g>
<g transform="translate(84.00,119.75) scale(1,1.040)"><text x="0" y="0" text-anchor="end" font-size="32" font-family='"Liberation Sans", sans-serif'>15</text></g>
<g transform="translate(84.00,29.32) scale(1,1.040)"><text x="0" y="0" text-anchor="end" font-size="32" font-family='"Liberation Sans", sans-serif'>18</text></g>
<g transform="translate(153.40,600.00) scale(1,1.040)"><text x="0" y="0" text-anchor="middle" font-size="32" font-family='"Liberation Sans", sans-serif'>0.3</text></g>
<g transform="translate(324.30,600.00) scale(1,1.040)"><text x="0" y="0" text-anchor="middle" font-size="32" font-family='"Liberation Sans", sans-serif'>0.6</text></g>
<g transform="translate(495.00,600.00) scale(1,1.040)"><text x="0" y="0" text-anchor="middle" font-size="32" font-family='"Liberation Sans", sans-serif'>0.9</text></g>
<g transform="translate(665.60,600.00) scale(1,1.040)"><text x="0" y="0" text-anchor="middle" font-size="32" font-family='"Liberation Sans", sans-serif'>1.2</text></g>
<g transform="translate(38.6,445.20) rotate(-90) scale(1,1.030)"><text x="0" y="0" font-size="43" letter-spacing="0.2" font-weight="bold" font-family='"Liberation Sans", sans-serif'>Current /<tspan font-family='"Liberation Serif", serif' font-weight="normal" font-size="45">&#956;</tspan>A</text></g>
<g transform="translate(206,655.6) scale(1,1.030)"><text x="0" y="0" font-size="43" letter-spacing="-0.13" font-weight="bold" font-family='"Liberation Sans", sans-serif'><tspan font-style="italic">E</tspan>/V <tspan font-style="italic">vs</tspan> Ag |AgCl| Cl<tspan font-size="30" dy="-22">-</tspan><tspan dy="22"> 0.1 M</tspan></text></g>
<g transform="translate(430.20,214.60) scale(1,1.085)"><text x="0" y="0" text-anchor="start" font-size="34" font-family='"Liberation Sans", sans-serif'>G</text></g>
<g transform="translate(607.50,173.70) scale(1,1.040)"><text x="0" y="0" text-anchor="start" font-size="34" font-family='"Liberation Sans", sans-serif'>A</text></g>
<g transform="translate(439.50,488.20) scale(1,1.020)"><text x="0" y="0" text-anchor="start" font-size="34" font-family='"Liberation Sans", sans-serif'>Ia</text></g>
<line x1="125.5" y1="26" x2="192" y2="26" stroke="#000" stroke-width="4.6" stroke-linecap="round"/>
<line x1="125.4" y1="67.5" x2="185" y2="67.5" stroke="#000" stroke-width="5" stroke-linecap="round" stroke-dasharray="0 7.44"/>
<line x1="125.5" y1="109.1" x2="191.5" y2="109.1" stroke="#ee0000" stroke-width="4.3" stroke-linecap="round"/>
<line x1="125.5" y1="150.1" x2="191.5" y2="150.1" stroke="#0000f5" stroke-width="4.3" stroke-linecap="round"/>
<g transform="translate(201.2,36.10) scale(1,1.030)"><text x="0" y="0" font-size="29.2" letter-spacing="0.1" font-family='"Liberation Sans", sans-serif'><tspan font-style="italic">ss</tspan>DNA</text></g>
<g transform="translate(201.2,77.70) scale(1,1.030)"><text x="0" y="0" font-size="29.2" letter-spacing="0.1" font-family='"Liberation Sans", sans-serif'>(<tspan font-weight="bold">1</tspan>) 1.10<tspan font-size="18" dy="-15.5">-4</tspan><tspan dy="15.5"> M</tspan></text></g>
<g transform="translate(201.2,119.10) scale(1,1.030)"><text x="0" y="0" font-size="29.2" letter-spacing="0.1" font-family='"Liberation Sans", sans-serif'><tspan font-style="italic">ss</tspan>DNA <tspan dx="2.6">+</tspan> (<tspan font-weight="bold">1</tspan>) 1.10<tspan font-size="18" dy="-15.5">-4</tspan><tspan dy="15.5"> M</tspan></text></g>
<g transform="translate(201.2,160.00) scale(1,1.030)"><text x="0" y="0" font-size="29.2" letter-spacing="0.1" font-family='"Liberation Sans", sans-serif'><tspan font-style="italic">ss</tspan>DNA <tspan dx="2.6">+</tspan> (<tspan font-weight="bold">1</tspan>) 2.10<tspan font-size="18" dy="-15.5">-4</tspan><tspan dy="15.5"> M</tspan></text></g>
</svg>
</body></html>
